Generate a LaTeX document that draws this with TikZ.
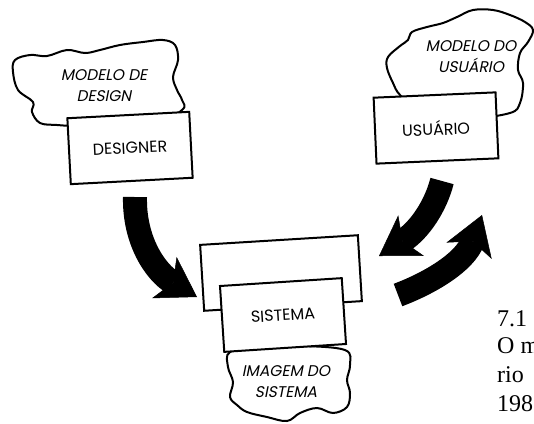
\documentclass[tikz,border=0pt]{standalone}
\usepackage{fontspec}
\setmainfont{Liberation Serif}
\newfontfamily\rotulo{Poppins}
\newfontfamily\rotuloit[FakeSlant=0.2]{Poppins}
\usetikzlibrary{arrows.meta, positioning}
\tikzset{
  caixa/.style={
    rectangle, draw=black, line width=2pt, fill=white,
    minimum width=122pt, minimum height=66pt, inner sep=0pt,
    font=\rotulo\fontsize{16}{19}\selectfont
  },
  nuvem/.style={draw=black, line width=2pt, fill=white},
  nuvemtexto/.style={
    align=center, inner sep=0pt,
    font=\rotuloit\fontsize{15.5}{21}\selectfont
  },
  seta/.style={
    line width=24pt, draw=black,
    -{Stealth[length=38pt, width=48pt, inset=10pt, line width=0.5pt]}
  },
  legenda/.style={inner sep=0pt, align=left, font=\fontsize{24}{29}\selectfont}
}

\begin{document}
\begin{tikzpicture}[x=1pt, y=-1pt]
  \useasboundingbox (0,0) rectangle (534,423);

  % nuvens
  \draw[nuvem] plot[smooth cycle, tension=0.6] coordinates {
    (15,60) (30,55) (47,56) (67,50) (85,53) (100,50) (120,45) (143,42)
    (163,40) (175,45) (178,60) (173,77) (177,90) (182,100) (182,110)
    (150,126) (80,126) (57,125) (40,123) (32,112) (33,102) (18,90) (13,72)};
  \draw[nuvem] plot[smooth cycle, tension=0.6] coordinates {
    (408,40) (412,32) (427,27) (443,23) (457,17) (473,10) (493,10) (510,15)
    (525,22) (533,30) (528,42) (520,53) (518,70) (523,83) (520,103)
    (510,113) (470,118) (420,112) (400,95) (393,83) (387,68) (388,57) (400,46)};
  \draw[nuvem] plot[smooth cycle, tension=0.6] coordinates {
    (230,352) (260,348) (300,346) (345,350) (350,365) (347,380) (350,393)
    (347,407) (333,413) (317,408) (300,413) (287,421) (267,417) (247,412)
    (237,405) (230,397) (233,382) (228,367)};

  \node[nuvemtexto] (mdesign) at (104,86) {MODELO DE\\DESIGN};
  \node[nuvemtexto] (musuario) at (471,57) {MODELO DO\\USUÁRIO};

  % caixas
  \node[caixa, rotate=3] (designer) at (130,148) {DESIGNER};
  \node[caixa, rotate=2.5] (usuario) at (436,128) {USUÁRIO};
  \node[caixa, rotate=3.5, minimum width=158pt] (fundo) at (281,273) {};
  \node[caixa, rotate=3.7] (sistema) at (283,315) {SISTEMA};

  \node[nuvemtexto] (imagem) at (286,382) {IMAGEM DO\\SISTEMA};

  % setas
  \coordinate (d1) at (135,197);
  \coordinate (d2) at (197,297);
  \coordinate (u1) at (442,181);
  \coordinate (u2) at (379,256);
  \coordinate (s1) at (398,295);
  \coordinate (s2) at (482,215);
  \draw[seta] (d1) .. controls (134,240) and (155,272) .. (d2);
  \draw[seta] (u1) .. controls (436,205) and (420,230) .. (u2);
  \draw[seta] (s1) .. controls (430,283) and (465,262) .. (s2);

  % legenda
  \node[legenda, anchor=base west] (num) at (497,326) {7.1};
  \node[legenda, anchor=north west] (texto) at (497,337.5) {O m\\rio\\198};
\end{tikzpicture}
\end{document}
